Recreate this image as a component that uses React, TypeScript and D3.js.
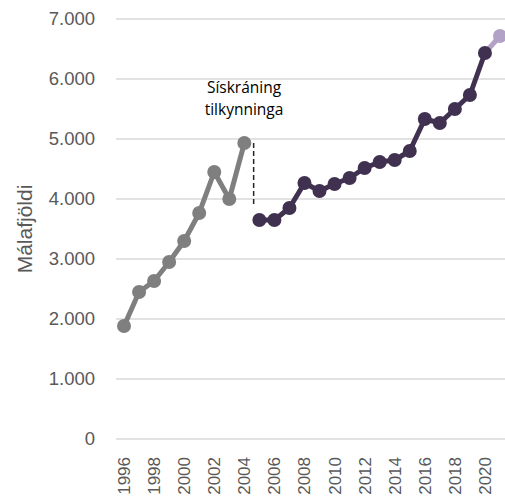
import React from "react";
import * as d3 from "d3";

const years = d3.range(1996, 2022).map(String);
const grayYears = ["1996","1997","1998","1999","2000","2001","2002","2003","2004"];
const grayValues = [1883, 2450, 2633, 2950, 3300, 3767, 4450, 4000, 4933];
const darkYears = ["2005","2006","2007","2008","2009","2010","2011","2012","2013","2014","2015","2016","2017","2018","2019","2020"];
const darkValues = [3650, 3650, 3850, 4267, 4133, 4250, 4350, 4517, 4617, 4650, 4800, 5333, 5267, 5500, 5733, 6433];
const lightYears = ["2020", "2021"];
const lightValues = [6433, 6717];
const yTicks = [0, 1000, 2000, 3000, 4000, 5000, 6000, 7000];
const xTickLabels = ["1996","1998","2000","2002","2004","2006","2008","2010","2012","2014","2016","2018","2020"];
const annotationLines = ["Sískráning", "tilkynninga"];
const dashFrom = 4933;
const dashTo = 3900;

const W = 505, H = 500;
const fmt = d3.formatLocale({ decimal: ",", thousands: ".", grouping: [3], currency: ["", ""] }).format(",");

export default function App() {
  const x = d3.scaleBand<string>().domain(years).range([116.5, 507.5]).paddingInner(0).paddingOuter(0);
  const cx = (yr: string) => (x(yr) as number) + x.bandwidth() / 2;
  const y = d3.scaleLinear().domain([0, 7000]).range([439, 19]);

  const line = d3.line<[string, number]>().x(d => cx(d[0])).y(d => y(d[1]));
  const gray = grayYears.map((yr, i) => [yr, grayValues[i]] as [string, number]);
  const dark = darkYears.map((yr, i) => [yr, darkValues[i]] as [string, number]);
  const light = lightYears.map((yr, i) => [yr, lightValues[i]] as [string, number]);

  const dashX = cx("2004") + x.bandwidth() * 0.62;
  const annX = cx("2004") - 0.3;

  return (
    <svg width={W} height={H} style={{ position: "absolute", left: 0, top: 0 }} xmlns="http://www.w3.org/2000/svg">
      <rect width={W} height={H} fill="#fff" />
      {yTicks.map(t => (
        <g key={t}>
          <line x1={116} x2={W} y1={y(t)} y2={y(t)} stroke="#d9d9d9" strokeWidth={1.3} />
          <text x={95} y={y(t)} dy="0.35em" textAnchor="end" fontFamily="Liberation Sans, Arial, sans-serif" fontSize={18.5} fill="#595959">{fmt(t)}</text>
        </g>
      ))}
      {xTickLabels.map(l => (
        <text key={l} transform={`translate(${cx(l) + 6},${457}) rotate(-90)`} textAnchor="end" fontFamily="Liberation Sans, Arial, sans-serif" fontSize={17} fill="#595959">{l}</text>
      ))}
      <text transform={`translate(32,229) rotate(-90)`} textAnchor="middle" fontFamily="Liberation Sans, Arial, sans-serif" fontSize={21} fill="#595959">Málafjöldi</text>

      <line x1={dashX} x2={dashX} y1={y(dashFrom)} y2={y(dashTo)} stroke="#262626" strokeWidth={1.5} strokeDasharray="5,3" />
      {annotationLines.map((t, i) => (
        <text key={t} x={annX} y={93 + i * 22} textAnchor="middle" fontFamily="Open Sans, sans-serif" fontSize={15.5} fill="#000">{t}</text>
      ))}

      <path d={line(gray) || ""} fill="none" stroke="#7f7f7f" strokeWidth={5} strokeLinejoin="round" />
      {gray.map(d => <circle key={d[0]} cx={cx(d[0])} cy={y(d[1])} r={7} fill="#7f7f7f" />)}
      <path d={line(light) || ""} fill="none" stroke="#b3a2c7" strokeWidth={5} />
      <circle cx={cx("2021")} cy={y(lightValues[1])} r={7} fill="#b3a2c7" />
      <path d={line(dark) || ""} fill="none" stroke="#403151" strokeWidth={5} strokeLinejoin="round" />
      {dark.map(d => <circle key={d[0]} cx={cx(d[0])} cy={y(d[1])} r={7} fill="#403151" />)}
    </svg>
  );
}
